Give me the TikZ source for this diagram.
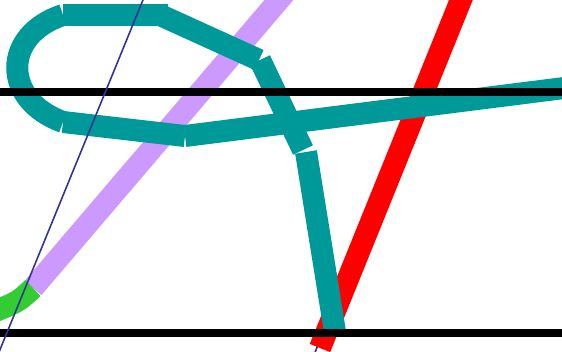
\documentclass[tikz,border=0pt]{standalone}
\definecolor{tealc}{RGB}{0,153,153}
\definecolor{purplec}{RGB}{204,153,255}
\definecolor{greenc}{RGB}{51,204,51}
\definecolor{redc}{RGB}{255,0,0}
\definecolor{bluec}{RGB}{51,51,153}
\begin{document}
\begin{tikzpicture}[x=1pt,y=-1pt,
  band/.style={line width=22pt,line cap=butt},
  tealband/.style={band,draw=tealc},
  rule/.style={line width=8pt,draw=black},
  thin/.style={line width=1.6pt,draw=bluec}]
\useasboundingbox (0,0) rectangle (562,352);
\clip (0,0) rectangle (562,352);
% coordinates
\coordinate (P0) at (296,-20);
\coordinate (P1) at (33,288);
\coordinate (G1) at (-12,314);
\coordinate (R0) at (469,-20);
\coordinate (R1) at (320,348);
\coordinate (T1) at (63,15);
\coordinate (T2) at (168,15);
\coordinate (T3) at (160,15);
\coordinate (T4) at (259,60);
\coordinate (T5) at (260,60);
\coordinate (T6) at (303,150);
\coordinate (T7) at (306,152);
\coordinate (T8) at (335,332);
\coordinate (T9) at (185,136);
\coordinate (T10) at (580,86);
\coordinate (T11) at (63,122);
\coordinate (B0) at (145,-5);
\coordinate (B1) at (-3,357);
\coordinate (C0) at (326,325);
\coordinate (C1) at (312,360);
% purple and green
\draw[band,draw=purplec] (P0) -- (P1);
\draw[band,draw=greenc] (P1) .. controls (18,302) .. (G1);
% hidden blue under red
\draw[thin] (C0) -- (C1);
% red
\draw[band,draw=redc] (R0) -- (R1);
% teal figure
\draw[tealband] (T1) -- (T2);
\draw[tealband] (T3) -- (T4);
\draw[tealband] (T5) -- (T6);
\draw[tealband] (T7) -- (T8);
\draw[tealband] (T9) -- (T10);
\draw[tealband] (T11) -- (T9);
\draw[tealband] (T1) .. controls (2,35) and (2,100) .. (T11);
% black rules
\coordinate (L0) at (-10,92);
\coordinate (L1) at (572,92);
\coordinate (M0) at (-10,333);
\coordinate (M1) at (572,333);
\draw[rule] (L0) -- (L1);
\draw[rule] (M0) -- (M1);
% blue line
\draw[thin] (B0) -- (B1);
\end{tikzpicture}
\end{document}
